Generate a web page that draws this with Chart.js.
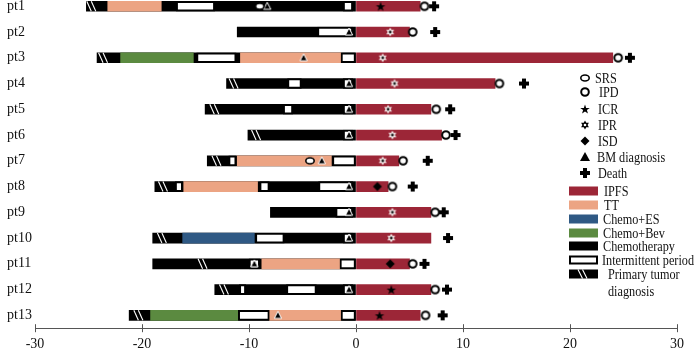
<!DOCTYPE html>
<html>
<head>
<meta charset="utf-8">
<script src="https://cdn.jsdelivr.net/npm/chart.js@4.4.0/dist/chart.umd.min.js"></script>
<style>
  html, body { margin: 0; padding: 0; background: #fff; overflow: hidden; }
  #wrap { width: 696px; height: 371px; margin-top: -15px; }
</style>
</head>
<body>
<div id="wrap"><canvas id="swim"></canvas></div>
<script>
// months relative to BM diagnosis (0)
const patients = ['pt1','pt2','pt3','pt4','pt5','pt6','pt7','pt8','pt9','pt10','pt11','pt12','pt13'];
const chemoStart = [-25.2,-11.1,-24.2,-12.1,-14.1,-10.1,-13.9,-18.8,-8.0,-19.0,-19.0,-13.2,-21.2];
const ipfsEnd = [6.0,5.0,24.0,13.0,7.0,8.0,4.0,3.0,7.0,7.0,5.0,7.0,6.0];
const ttSeg = [[-23.2,-18.2],null,[-10.8,-1.4],null,null,null,[-11.1,-2.3],[-16.1,-9.2],null,null,[-8.8,-1.5],null,[-8.1,-1.4]];
const esSeg = [null,null,null,null,null,null,null,null,null,[-16.2,-9.5],null,null,null];
const bevSeg = [null,null,[-22.0,-15.2],null,null,null,null,null,null,null,null,null,[-19.2,-11.0]];
const pause1 = [[-16.8,-13.2],[-3.6,-0.3],[-14.9,-11.2],[-6.4,-5.1],[-6.8,-5.9],null,[-11.9,-11.2],[-16.9,-16.2],[-1.9,-0.3],[-9.4,-6.7],[-10.0,-9.0],[-10.9,-10.3],[-11.0,-8.1]];
const pause2 = [[-1.2,-0.3],null,[-1.4,0],[-1.2,-0.3],[-1.2,-0.3],[-1.2,-0.3],[-2.2,0],[-9.0,-8.1],null,[-1.2,-0.3],[-1.5,0],[-6.5,-3.7],[-1.4,0]];
const pause3 = [null,null,null,null,null,null,null,[-3.5,-0.3],null,null,null,[-1.2,-0.3],null];
const primaryDx = [-24.6,null,-23.5,-11.3,-13.1,-9.2,-12.9,-17.9,null,-18.0,-14.2,-12.2,-20.2];

const srs = [-9.0,null,null,null,null,null,-4.3,null,null,null,null,null,null];
const ipd = [6.4,5.3,24.5,13.4,7.5,8.4,4.4,3.4,7.4,null,5.3,7.4,6.5];
const icr = [2.3,null,null,null,null,null,null,null,null,null,null,3.3,2.2];
const ipr = [null,3.2,2.5,3.6,3.0,3.4,2.5,null,3.4,3.3,null,null,null];
const isd = [null,null,null,null,null,null,null,2.0,null,null,3.2,null,null];
const bmDx = [-8.3,-0.65,-4.9,-0.65,-0.65,-0.65,-3.2,-0.65,-0.65,-0.65,-9.5,-0.65,-7.3];
const death = [7.3,7.4,25.6,15.7,8.8,9.3,6.7,5.3,8.2,8.6,6.4,8.5,8.1];

const xTicks = [-30,-20,-10,0,10,20,30];
const markerNames = ['SRS','IPD','ICR','IPR','ISD','BM diagnosis','Death'];
const barNames = ['IPFS','TT','Chemo+ES','Chemo+Bev','Chemotherapy','Intermittent period','Primary tumor'];

const RED = '#9c2637', SALMON = '#eca483', BLUE = '#2f5984', GREEN = '#5b8a40';
const SERIF = '"Liberation Serif", "DejaVu Serif", serif';
const SHIFT = 15; // canvas is pulled up by this much

function mk(w, h, fn) {
  const c = document.createElement('canvas');
  c.width = w; c.height = h;
  const g = c.getContext('2d');
  fn(g, w / 2, h / 2);
  return c;
}
function starPath(g, cx, cy, n, ro, ri) {
  g.beginPath();
  for (let i = 0; i < n * 2; i++) {
    const r = i % 2 ? ri : ro;
    const a = -Math.PI / 2 + i * Math.PI / n;
    g.lineTo(cx + r * Math.cos(a), cy + r * Math.sin(a));
  }
  g.closePath();
}
function hexagram(g, cx, cy, r) {
  g.beginPath();
  for (let k = 0; k < 2; k++) {
    for (let i = 0; i < 3; i++) {
      const a = -Math.PI / 2 + k * Math.PI + i * 2 * Math.PI / 3;
      const px = cx + r * Math.cos(a), py = cy + r * Math.sin(a);
      if (i === 0) g.moveTo(px, py); else g.lineTo(px, py);
    }
    g.closePath();
  }
}

const icons = {
  srs: mk(12, 10, (g, cx, cy) => {
    g.beginPath(); g.ellipse(cx, cy, 4.2, 3, 0, 0, Math.PI * 2);
    g.fillStyle = '#fff'; g.fill(); g.lineWidth = 1.6; g.strokeStyle = '#000'; g.stroke();
  }),
  ipd: mk(12, 12, (g, cx, cy) => {
    g.beginPath(); g.arc(cx, cy, 3.8, 0, Math.PI * 2);
    g.fillStyle = '#fff'; g.fill(); g.lineWidth = 2; g.strokeStyle = '#000'; g.stroke();
  }),
  icr: mk(12, 12, (g, cx, cy) => {
    starPath(g, cx, cy + 0.5, 5, 5, 2); g.fillStyle = '#000'; g.fill();
  }),
  ipr: mk(12, 12, (g, cx, cy) => {
    hexagram(g, cx, cy, 4.5); g.fillStyle = '#f2e6e6'; g.fill();
    g.beginPath(); g.arc(cx, cy, 1.4, 0, Math.PI * 2); g.fillStyle = '#222'; g.fill();
  }),
  iprKey: mk(12, 12, (g, cx, cy) => {
    hexagram(g, cx, cy, 4.5); g.fillStyle = '#000'; g.fill();
    g.beginPath(); g.arc(cx, cy, 1.3, 0, Math.PI * 2); g.fillStyle = '#fff'; g.fill();
  }),
  isd: mk(12, 12, (g, cx, cy) => {
    g.beginPath(); g.moveTo(cx, cy - 4.5); g.lineTo(cx + 4.5, cy); g.lineTo(cx, cy + 4.5); g.lineTo(cx - 4.5, cy);
    g.closePath(); g.fillStyle = '#000'; g.fill();
  }),
  bm: mk(12, 12, (g, cx, cy) => {
    g.beginPath(); g.moveTo(cx, cy - 4); g.lineTo(cx + 3.6, cy + 3); g.lineTo(cx - 3.6, cy + 3); g.closePath();
    g.fillStyle = '#000'; g.fill(); g.lineWidth = 1; g.strokeStyle = '#fff'; g.stroke();
  }),
  bmKey: mk(14, 14, (g, cx, cy) => {
    g.beginPath(); g.moveTo(cx, cy - 5); g.lineTo(cx + 5, cy + 4); g.lineTo(cx - 5, cy + 4); g.closePath();
    g.fillStyle = '#000'; g.fill();
  }),
  death: mk(14, 14, (g, cx, cy) => {
    g.fillStyle = '#000';
    g.fillRect(cx - 5, cy - 2, 10, 4);
    g.fillRect(cx - 2, cy - 5, 4, 10);
  })
};

function pts(vals) {
  return vals.map((v, i) => v === null ? null : { x: v, y: patients[i] }).filter(p => p);
}

const barBase = { grouped: false, barThickness: 10, borderSkipped: false };
const pauseStyle = Object.assign({}, barBase, { backgroundColor: '#fff', borderColor: '#000', borderWidth: 2, order: 1 });
function markerSet(label, vals, icon) {
  return { type: 'line', label: label, data: pts(vals), showLine: false, pointStyle: icon,
    pointRadius: 5, pointHoverRadius: 5, clip: false, order: 0 };
}

const datasets = [
  Object.assign({ label: 'Chemotherapy', data: chemoStart.map(s => [s, 0]), backgroundColor: '#000', order: 3 }, barBase),
  Object.assign({ label: 'TT', data: ttSeg, backgroundColor: SALMON, order: 2 }, barBase),
  Object.assign({ label: 'Chemo+ES', data: esSeg, backgroundColor: BLUE, order: 2 }, barBase),
  Object.assign({ label: 'Chemo+Bev', data: bevSeg, backgroundColor: GREEN, order: 2 }, barBase),
  Object.assign({ label: 'IPFS', data: ipfsEnd.map(e => [0, e]), backgroundColor: RED, order: 2 }, barBase),
  Object.assign({ label: 'Intermittent period', data: pause1 }, pauseStyle),
  Object.assign({ label: 'Intermittent period 2', data: pause2 }, pauseStyle),
  Object.assign({ label: 'Intermittent period 3', data: pause3 }, pauseStyle),
  markerSet('SRS', srs, icons.srs),
  markerSet('IPD', ipd, icons.ipd),
  markerSet('ICR', icr, icons.icr),
  markerSet('IPR', ipr, icons.ipr),
  markerSet('ISD', isd, icons.isd),
  markerSet('BM diagnosis', bmDx, icons.bm),
  markerSet('Death', death, icons.death)
];

function hatch(ctx, x, top, bottom) {
  ctx.save();
  ctx.strokeStyle = '#fff';
  ctx.lineWidth = 1.1;
  [-4, 0.5].forEach(d => {
    ctx.beginPath();
    ctx.moveTo(x + d - 2, top);
    ctx.lineTo(x + d + 2.5, bottom);
    ctx.stroke();
  });
  ctx.restore();
}

const extras = {
  id: 'extras',
  afterDatasetsDraw(chart) {
    const ctx = chart.ctx;
    const xs = chart.scales.x, ys = chart.scales.y;
    primaryDx.forEach((v, i) => {
      if (v === null) return;
      const cy = ys.getPixelForValue(i);
      hatch(ctx, xs.getPixelForValue(v), cy - 5, cy + 5);
    });
  },
  afterDraw(chart) {
    const ctx = chart.ctx;
    const xs = chart.scales.x;
    // upper half of the axis ticks
    ctx.save();
    ctx.strokeStyle = '#555';
    ctx.lineWidth = 1;
    xTicks.forEach(t => {
      const px = Math.round(xs.getPixelForValue(t)) + 0.5;
      ctx.beginPath(); ctx.moveTo(px, xs.top - 4); ctx.lineTo(px, xs.top); ctx.stroke();
    });
    ctx.restore();

    // legend (page coordinates, canvas is shifted up)
    ctx.save();
    ctx.translate(0, SHIFT);
    ctx.font = '14px ' + SERIF;
    ctx.textBaseline = 'middle';
    const k = 92 / ctx.measureText('Intermittent period').width;
    const text = (s, x, y) => {
      ctx.save(); ctx.translate(x, y); ctx.scale(k, 1);
      ctx.fillStyle = '#111'; ctx.fillText(s, 0, 0); ctx.restore();
    };
    const mIcons = [icons.srs, icons.ipd, icons.icr, icons.iprKey, icons.isd, icons.bmKey, icons.death];
    const mY = [78, 92, 109, 125, 141, 157, 173];
    const mTx = [595, 599, 598, 598, 598, 597, 598];
    markerNames.forEach((name, i) => {
      const ic = mIcons[i];
      ctx.drawImage(ic, 585 - ic.width / 2, mY[i] - ic.height / 2);
      text(name, mTx[i], mY[i] + 1);
    });
    const bY = [191, 205, 219, 233, 246, 260, 274];
    const bFill = [RED, SALMON, BLUE, GREEN, '#000', '#fff', '#000'];
    const bTx = [604, 604, 603, 603, 603, 602, 608];
    barNames.forEach((name, i) => {
      const y = bY[i] - 4.5;
      ctx.fillStyle = bFill[i];
      ctx.fillRect(569, y, 29, 9);
      if (i === 5) {
        ctx.strokeStyle = '#000'; ctx.lineWidth = 2;
        ctx.strokeRect(570, y + 1, 27, 7);
      }
      if (i === 6) hatch(ctx, 584, y, y + 9);
      text(name, bTx[i], bY[i] + 1);
    });
    text('diagnosis', 608, 292);
    ctx.restore();
  }
};

new Chart(document.getElementById('swim'), {
  type: 'bar',
  data: { labels: patients, datasets: datasets },
  options: {
    indexAxis: 'y',
    responsive: true,
    maintainAspectRatio: false,
    animation: false,
    layout: { padding: { left: 7, right: 19, top: 0, bottom: -1 } },
    plugins: { legend: { display: false }, tooltip: { enabled: false } },
    scales: {
      x: {
        type: 'linear', min: -30, max: 30,
        afterBuildTicks: s => { s.ticks = xTicks.map(v => ({ value: v })); },
        grid: { display: true, drawOnChartArea: false, drawTicks: true, tickLength: 4, color: '#555' },
        border: { display: true, color: '#555', width: 1 },
        ticks: { color: '#111', padding: 4, font: { family: SERIF, size: 14 } }
      },
      y: {
        type: 'category',
        grid: { display: false },
        border: { display: false },
        afterFit: s => { s.width = 28; },
        ticks: { color: '#111', crossAlign: 'far', padding: 0, font: { family: SERIF, size: 14 } }
      }
    }
  },
  plugins: [extras]
});
</script>
</body>
</html>
